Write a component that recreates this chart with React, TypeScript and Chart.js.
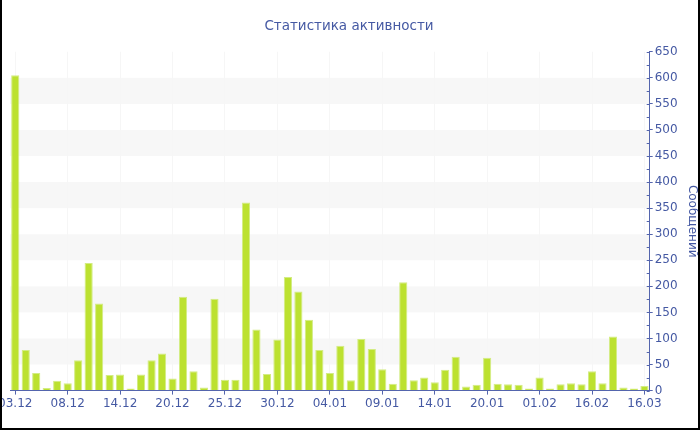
import React, { useEffect, useRef } from "react";
import { Chart, registerables } from "chart.js";

Chart.register(...registerables);

const TITLE = "Статистика активности";
const Y_TITLE = "Сообщений";
const tickLabels = ["03.12", "08.12", "14.12", "20.12", "25.12", "30.12", "04.01", "09.01", "14.01", "20.01", "01.02", "16.02", "16.03"];
const barsPerTick = 5;
const messages = [605, 78, 34, 5, 19, 14, 58, 245, 167, 30, 31, 4, 31, 58, 71, 23, 180, 37, 6, 176, 21, 21, 361, 117, 32, 98, 218, 190, 136, 78, 34, 86, 20, 99, 80, 41, 13, 208, 20, 25, 16, 40, 65, 8, 11, 63, 13, 12, 11, 4, 25, 4, 12, 14, 12, 37, 14, 104, 6, 4, 9];
const categories = messages.map((_, i) => (i % barsPerTick === 0 ? tickLabels[i / barsPerTick] : ""));
const yMax = 650;
const yStep = 50;
const yMinorStep = 25;

const BLUE = "#4559a3";
const AXIS = "#5465ad";
const BAR = "#bce130";
const BAR_EDGE = "#d3ec84";
const BAND = "#f7f7f7";
const FONT = "'DejaVu Sans', Verdana, sans-serif";

const decor = {
  id: "decor",
  afterLayout(chart: any) {
    const tb = chart.titleBlock;
    if (tb) tb.right = tb.right - 12;
  },
  beforeDraw(chart: any) {
    const { ctx, chartArea: a, scales } = chart;
    const y = scales.y;
    ctx.save();
    ctx.fillStyle = BAND;
    for (let v = yStep; v < yMax; v += 2 * yStep) {
      const top = y.getPixelForValue(v + yStep);
      const bot = y.getPixelForValue(v);
      ctx.fillRect(a.left, top, a.right - a.left, bot - top);
    }
    ctx.restore();
  },
  afterDraw(chart: any) {
    const { ctx, chartArea: a, scales } = chart;
    const y = scales.y;
    ctx.save();
    ctx.strokeStyle = AXIS;
    ctx.lineWidth = 1;
    for (let v = 0; v <= yMax; v += yMinorStep) {
      const py = Math.round(y.getPixelForValue(v)) + 0.5;
      ctx.beginPath();
      ctx.moveTo(a.right - 3, py);
      ctx.lineTo(a.right, py);
      ctx.stroke();
    }
    ctx.restore();
  },
};

export default function App() {
  const ref = useRef<HTMLCanvasElement>(null);
  useEffect(() => {
    const chart = new Chart(ref.current as HTMLCanvasElement, {
      type: "bar",
      data: {
        labels: categories,
        datasets: [
          {
            data: messages,
            backgroundColor: BAR,
            borderColor: BAR_EDGE,
            borderWidth: { left: 1, right: 1, top: 1, bottom: 0 },
            barPercentage: 0.78,
            categoryPercentage: 1,
          },
        ],
      },
      options: {
        animation: false,
        responsive: false,
        layout: { padding: { left: 10, right: 0, top: 10, bottom: 17 } },
        plugins: {
          legend: { display: false },
          tooltip: { enabled: false },
          title: {
            display: true,
            text: TITLE,
            color: BLUE,
            font: { family: FONT, size: 13.5, weight: "normal" },
            padding: { top: 8, bottom: 17.6 },
          },
        },
        scales: {
          x: {
            offset: true,
            afterFit: (s: any) => {
              s.paddingLeft = 0;
              s.paddingRight = 0;
            },
            grid: {
              offset: false,
              color: "#f6f6f6",
              tickColor: AXIS,
              tickLength: 4,
              drawOnChartArea: true,
            },
            border: { color: AXIS },
            ticks: {
              autoSkip: false,
              maxRotation: 0,
              padding: 2,
              color: BLUE,
              font: { family: FONT, size: 12 },
              callback: (_v: any, i: number) => (categories[i] ? categories[i] : null),
            },
          },
          y: {
            position: "right",
            min: 0,
            max: yMax,
            grid: { drawOnChartArea: false, tickLength: 3, tickColor: AXIS },
            border: { color: AXIS },
            ticks: {
              stepSize: yStep,
              padding: 2,
              color: BLUE,
              font: { family: FONT, size: 12 },
            },
            title: {
              display: true,
              text: Y_TITLE,
              color: BLUE,
              font: { family: FONT, size: 12 },
              padding: { top: 1, bottom: 5 },
            },
          },
        },
      },
      plugins: [decor],
    } as any);
    return () => chart.destroy();
  }, []);

  return (
    <div style={{ position: "fixed", left: 0, top: 0, width: 700, height: 430, background: "#fff", overflow: "hidden" }}>
      <canvas ref={ref} width={700} height={430} style={{ position: "absolute", left: 0, top: 0, width: 700, height: 430 }} />
      <div
        style={{
          position: "absolute",
          left: 0,
          top: 0,
          width: 700,
          height: 430,
          boxSizing: "border-box",
          borderLeft: "2px solid #000",
          borderRight: "2px solid #000",
          borderBottom: "2px solid #000",
          pointerEvents: "none",
        }}
      />
    </div>
  );
}
